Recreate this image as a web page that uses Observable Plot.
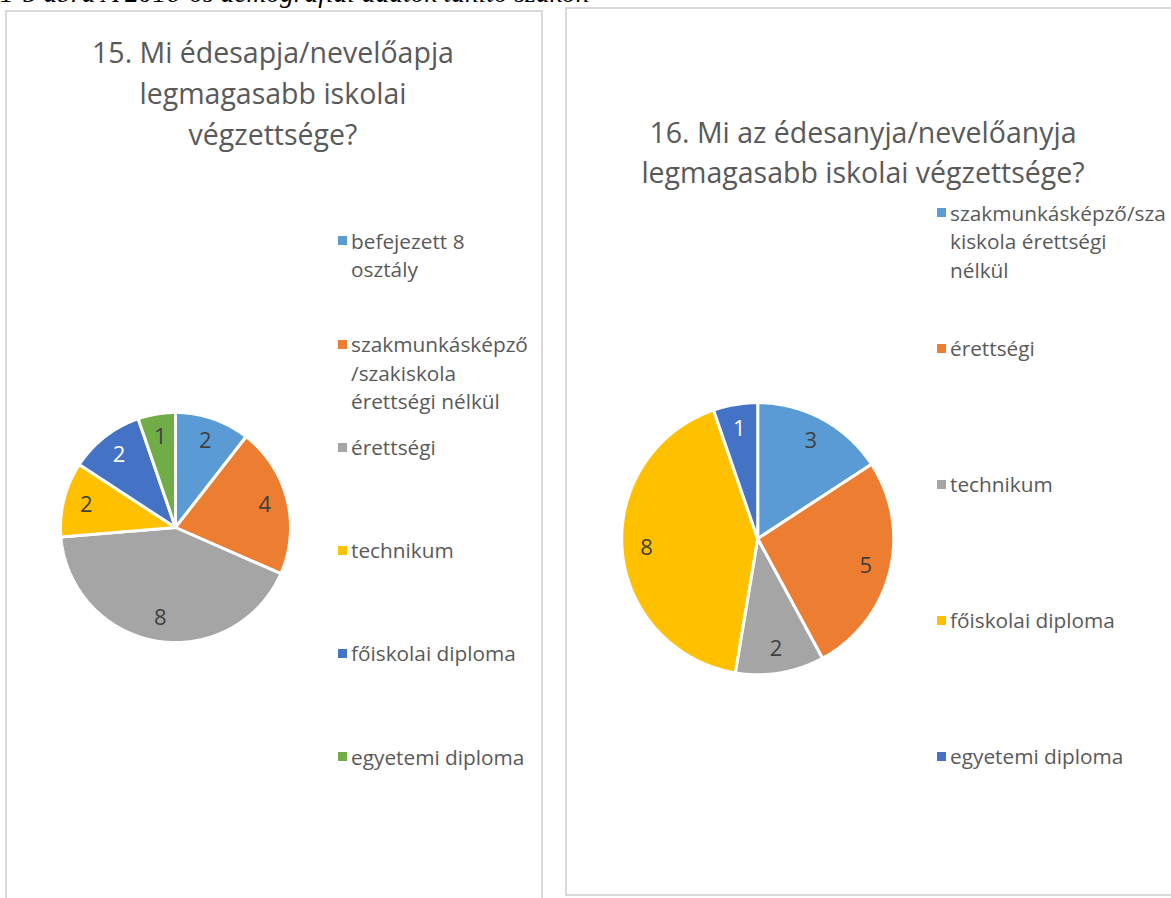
<!DOCTYPE html>
<html>
<head>
<meta charset="utf-8">
<script src="https://cdn.jsdelivr.net/npm/d3@7"></script>
<script src="https://cdn.jsdelivr.net/npm/@observablehq/plot@0.6"></script>
<style>
  html, body { margin: 0; padding: 0; background: #fff; }
  body { width: 1171px; height: 898px; position: relative; overflow: hidden; font-family: "Open Sans", sans-serif; }
  .caption { position: absolute; left: 0; top: -22px; font-family: "Liberation Serif", serif; font-style: italic; font-size: 27.5px; white-space: nowrap; color: #000; line-height: 30px; }
  .panel { position: absolute; border: 2px solid #D9D9D9; box-sizing: border-box; background: #fff; }
  .title { position: absolute; text-align: center; color: #595959; font-size: 28.5px; white-space: nowrap; transform: translateX(-50%); }
  .legend-item { position: absolute; display: flex; align-items: flex-start; color: #595959; font-size: 20.8px; }
  .legend-item .sw { width: 9px; height: 9px; flex: none; margin-right: 4px; }
  .legend-item .txt { white-space: nowrap; }
  .chart { position: absolute; }
</style>
</head>
<body>
<script>
// ---------- data ----------
const captionText = "1-5 ábra A 2016-os demográfiai adatok tanító szakon";

const fatherTitle = ["15. Mi édesapja/nevelőapja", "legmagasabb iskolai", "végzettsége?"];
const fatherCategories = ["befejezett 8 osztály", "szakmunkásképző/szakiskola érettségi nélkül", "érettségi", "technikum", "főiskolai diploma", "egyetemi diploma"];
const fatherValues = [2, 4, 8, 2, 2, 1];
const fatherLegendLines = [["befejezett 8", "osztály"], ["szakmunkásképző", "/szakiskola", "érettségi nélkül"], ["érettségi"], ["technikum"], ["főiskolai diploma"], ["egyetemi diploma"]];

const motherTitle = ["16. Mi az édesanyja/nevelőanyja", "legmagasabb iskolai végzettsége?"];
const motherCategories = ["szakmunkásképző/szakiskola érettségi nélkül", "érettségi", "technikum", "főiskolai diploma", "egyetemi diploma"];
const motherValues = [3, 5, 2, 8, 1];
const motherLegendLines = [["szakmunkásképző/sza", "kiskola érettségi", "nélkül"], ["érettségi"], ["technikum"], ["főiskolai diploma"], ["egyetemi diploma"]];

const fatherColors = ["#5B9BD5", "#ED7D31", "#A5A5A5", "#FFC000", "#4472C4", "#70AD47"];
const motherColors = ["#5B9BD5", "#ED7D31", "#A5A5A5", "#FFC000", "#4472C4"];

// ---------- helpers ----------
function el(tag, cls, style, text) {
  const e = document.createElement(tag);
  if (cls) e.className = cls;
  if (style) Object.assign(e.style, style);
  if (text != null) e.textContent = text;
  return e;
}

function pie(values, colors, R, labelR, cx, cy) {
  const size = 2.4 * R;
  const arcs = d3.pie().sort(null).value(d => d)(values);
  const marks = arcs.map((a, i) => {
    const n = Math.max(4, Math.ceil((a.endAngle - a.startAngle) * 80));
    const pts = [{x: 0, y: 0}];
    for (let k = 0; k <= n; k++) {
      const t = a.startAngle + (a.endAngle - a.startAngle) * k / n;
      pts.push({x: Math.sin(t), y: Math.cos(t)});
    }
    return Plot.line(pts, {x: "x", y: "y", fill: colors[i], stroke: "white", strokeWidth: 3, strokeLinejoin: "miter", curve: "linear-closed"});
  });
  const mid = a => (a.startAngle + a.endAngle) / 2;
  marks.push(Plot.text(arcs, {
    x: a => Math.sin(mid(a)) * labelR,
    y: a => Math.cos(mid(a)) * labelR,
    text: a => String(a.data),
    fill: a => colors[a.index] === "#4472C4" ? "#FFFFFF" : "#404040",
    fontSize: 22,
    fontFamily: "Open Sans"
  }));
  const svg = Plot.plot({
    width: size, height: size, margin: 0,
    x: {domain: [-1.2, 1.2], axis: null},
    y: {domain: [-1.2, 1.2], axis: null},
    color: {type: "identity"},
    style: {background: "transparent", overflow: "visible"},
    marks
  });
  const wrap = el("div", "chart", {left: (cx - size / 2) + "px", top: (cy - size / 2) + "px", width: size + "px", height: size + "px"});
  wrap.appendChild(svg);
  return wrap;
}

function legend(linesArr, colors, x, firstY, step, lh) {
  const frag = document.createDocumentFragment();
  linesArr.forEach((lines, i) => {
    const item = el("div", "legend-item", {left: x + "px", top: (firstY + i * step - lh / 2) + "px", lineHeight: lh + "px"});
    const sw = el("div", "sw", {background: colors[i], marginTop: ((lh - 9) / 2) + "px"});
    const txt = el("div", "txt");
    lines.forEach((l, j) => { if (j) txt.appendChild(document.createElement("br")); txt.appendChild(document.createTextNode(l)); });
    item.appendChild(sw); item.appendChild(txt);
    frag.appendChild(item);
  });
  return frag;
}

// ---------- layout ----------
document.body.appendChild(el("div", "caption", {}, captionText));

document.body.appendChild(el("div", "panel", {left: "5px", top: "10px", width: "538px", height: "900px"}));
document.body.appendChild(el("div", "panel", {left: "565px", top: "7px", width: "620px", height: "889px"}));

fatherTitle.forEach((t, i) => {
  document.body.appendChild(el("div", "title", {left: "273px", top: (52 + i * 41 - 20) + "px", lineHeight: "40px"}, t));
});
motherTitle.forEach((t, i) => {
  document.body.appendChild(el("div", "title", {left: "863px", top: (132 + i * 40 - 20) + "px", lineHeight: "40px"}, t));
});

document.body.appendChild(pie(fatherValues, fatherColors, 115, 0.8, 175, 527));
document.body.appendChild(pie(motherValues, motherColors, 136, 0.82, 757, 538));

document.body.appendChild(legend(fatherLegendLines, fatherColors, 338, 241, 103.2, 28.7));
document.body.appendChild(legend(motherLegendLines, motherColors, 937, 213, 135.8, 28.7));
</script>
</body>
</html>
